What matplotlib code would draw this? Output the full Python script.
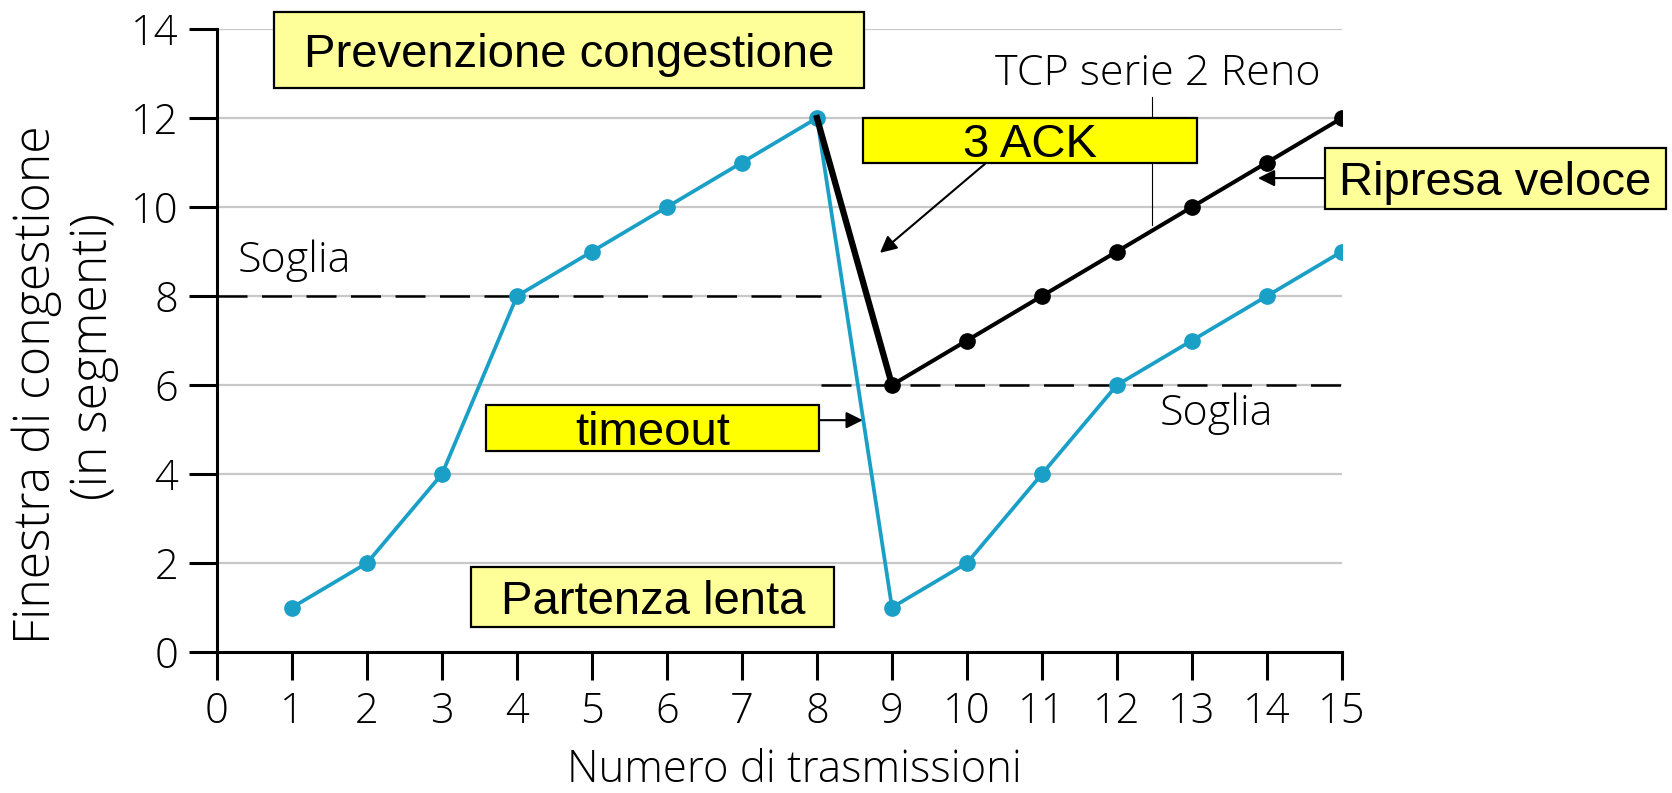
import matplotlib.pyplot as plt
from matplotlib.patches import Rectangle

# data
x_blue = [1, 2, 3, 4, 5, 6, 7, 8, 9, 10, 11, 12, 13, 14, 15]
y_blue = [1, 2, 4, 8, 9, 10, 11, 12, 1, 2, 4, 6, 7, 8, 9]
x_reno = [8, 9, 10, 11, 12, 13, 14, 15]
y_reno = [12, 6, 7, 8, 9, 10, 11, 12]
soglia_1 = 8
soglia_2 = 6
x_ticks = list(range(0, 16))
y_ticks = list(range(0, 15, 2))

BLUE = '#1a9fc6'
LIGHT_Y = '#ffff99'
BRIGHT_Y = '#ffff00'
SEGOE = ['Open Sans', 'DejaVu Sans']
ARIAL = ['Liberation Sans', 'DejaVu Sans']

fig = plt.figure(figsize=(16.72, 7.93), dpi=100)
ax = fig.add_axes([0.1298, 0.1778, 0.6728, 0.7856])
ax.set_xlim(0, 15)
ax.set_ylim(0, 14)

for yv in y_ticks[1:]:
    ax.axhline(yv, color='#c8c8c8', lw=1.6, zorder=0)

# soglie (thresholds)
ax.plot([0, 8.05], [soglia_1, soglia_1], color='black', lw=1.8, dashes=(12, 5.8), zorder=1)
ax.plot([8.05, 15], [soglia_2, soglia_2], color='black', lw=1.8, dashes=(12, 5.8), zorder=1)

ax.plot(x_blue, y_blue, color=BLUE, lw=2.7, marker='o', ms=11, zorder=3)
ax.plot(x_reno[:2], y_reno[:2], color='black', lw=4.5, zorder=4)
ax.plot(x_reno[1:], y_reno[1:], color='black', lw=2.9, marker='o', ms=11, zorder=4)
ax.plot([12.47, 12.47], [9.6, 12.47], color='black', lw=0.8, zorder=2)

for s in ['top', 'right']:
    ax.spines[s].set_visible(False)
for s in ['left', 'bottom']:
    ax.spines[s].set_linewidth(2.2)
ax.set_xticks(x_ticks)
ax.set_yticks(y_ticks)
ax.tick_params(length=20, width=2.2, direction='out', pad=8, labelsize=30)
for lab in ax.get_xticklabels() + ax.get_yticklabels():
    lab.set_family(SEGOE)
    lab.set_fontweight('light')

fig.text(794 / 1672, 1 - 771 / 793, 'Numero di trasmissioni',
         ha='center', va='center', fontsize=31.5, family=SEGOE, fontweight='light')
fig.text(37 / 1672, 1 - 385 / 793, 'Finestra di congestione', rotation=90,
         ha='center', va='center', fontsize=36, family=SEGOE, fontweight='light')
fig.text(94 / 1672, 1 - 357 / 793, '(in segmenti)', rotation=90,
         ha='center', va='center', fontsize=36, family=SEGOE, fontweight='light')

ax.text(0.27, 8.79, 'Soglia', ha='left', va='center', fontsize=31,
        family=SEGOE, fontweight='light')
ax.text(12.57, 5.35, 'Soglia', ha='left', va='center', fontsize=31,
        family=SEGOE, fontweight='light')
ax.text(12.55, 13.0, 'TCP serie 2 Reno', ha='center', va='center', fontsize=31,
        family=SEGOE, fontweight='light')

boxes = [
    (0.76, 12.67, 8.63, 14.38, LIGHT_Y, 'Prevenzione congestione'),
    (8.62, 10.99, 13.07, 12.0, BRIGHT_Y, '3 ACK'),
    (14.77, 9.96, 19.32, 11.33, LIGHT_Y, 'Ripresa veloce'),
    (3.59, 4.52, 8.03, 5.55, BRIGHT_Y, 'timeout'),
    (3.39, 0.56, 8.23, 1.91, LIGHT_Y, 'Partenza lenta'),
]
for x0, y0, x1, y1, fc, txt in boxes:
    ax.add_patch(Rectangle((x0, y0), x1 - x0, y1 - y0, facecolor=fc,
                           edgecolor='black', lw=1.6, zorder=5, clip_on=False))
    ax.text((x0 + x1) / 2, (y0 + y1) / 2, txt, ha='center', va='center_baseline',
            fontsize=34, family=ARIAL, zorder=6, clip_on=False)

arrow = dict(arrowstyle='-|>', color='black', lw=1.5, mutation_scale=25,
             shrinkA=0, shrinkB=0)
ax.annotate('', xy=(8.84, 8.97), xytext=(10.24, 10.97), arrowprops=arrow, zorder=6)
ax.annotate('', xy=(8.61, 5.21), xytext=(8.03, 5.21), arrowprops=arrow, zorder=6)
ax.annotate('', xy=(13.88, 10.65), xytext=(14.77, 10.65), arrowprops=arrow,
            zorder=6, annotation_clip=False)

fig.savefig('out.png', dpi=100)
